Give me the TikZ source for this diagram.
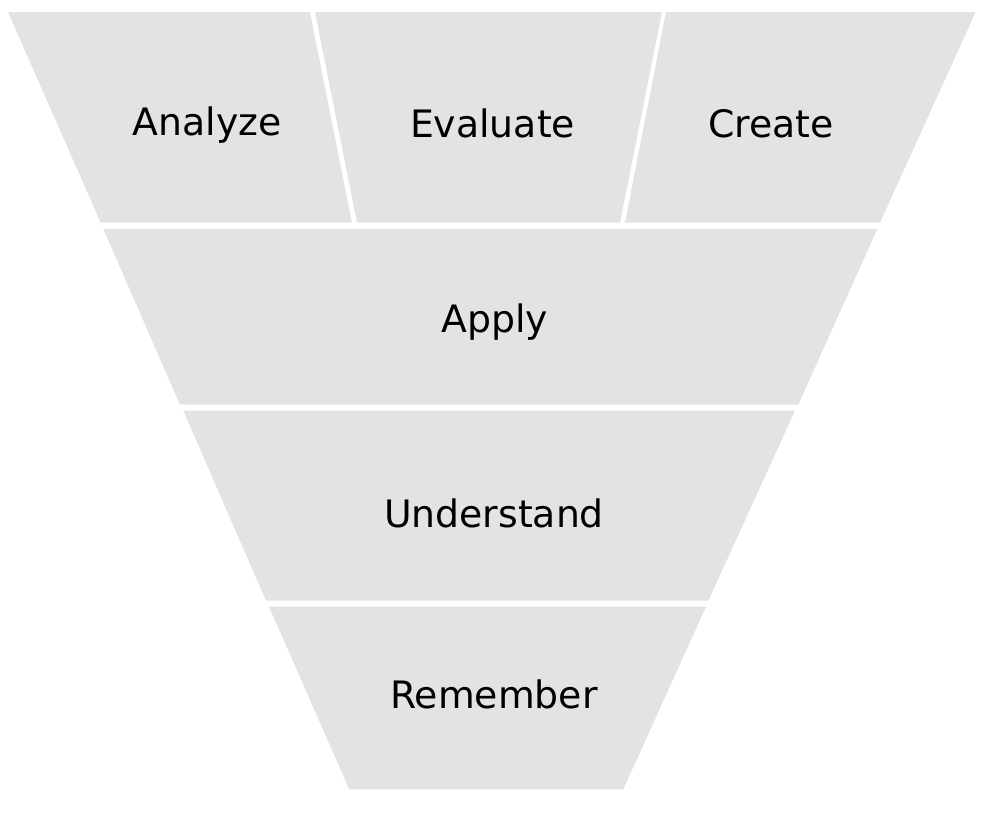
\documentclass[tikz,border=0pt]{standalone}
\usepackage{fontspec}
\setmainfont{DejaVu Sans}
\definecolor{tiergray}{RGB}{226,227,229}

\begin{document}
\begin{tikzpicture}[
	x = 0.02cm, y = -0.02cm,
	tier/.style={fill=tiergray},
	levelname/.style={anchor=base, inner sep=0pt, font=\fontsize{21.5}{26}\selectfont},
	]
	\useasboundingbox (0,0) rectangle (996,825);
	%Tiers
	\fill[tier] (8,12) -- (310,12) -- (352,222.7) -- (100.7,222.7) -- cycle;
	\fill[tier] (315,12) -- (662,12) -- (620,222.7) -- (357,222.7) -- cycle;
	\fill[tier] (666,12) -- (975.7,12) -- (880,222.7) -- (625,222.7) -- cycle;
	\fill[tier] (103.3,229) -- (877.3,229) -- (798.3,404.7) -- (180,404.7) -- cycle;
	\fill[tier] (183.3,410.7) -- (795,410.7) -- (708.3,600.7) -- (266,600.7) -- cycle;
	\fill[tier] (269,606.7) -- (706,606.7) -- (623.3,789.3) -- (349.3,789.3) -- cycle;
	
	%Labels
	\node[levelname] (analyze)    at (207,135)   {Analyze};
	\node[levelname] (evaluate)   at (492.5,137.3) {Evaluate};
	\node[levelname] (create)     at (771,137.7) {Create};
	\node[levelname] (apply)      at (495,332.7) {Apply};
	\node[levelname] (understand) at (494,527.7) {Understand};
	\node[levelname] (remember)   at (494,708.3) {Remember};
\end{tikzpicture}
\end{document}
